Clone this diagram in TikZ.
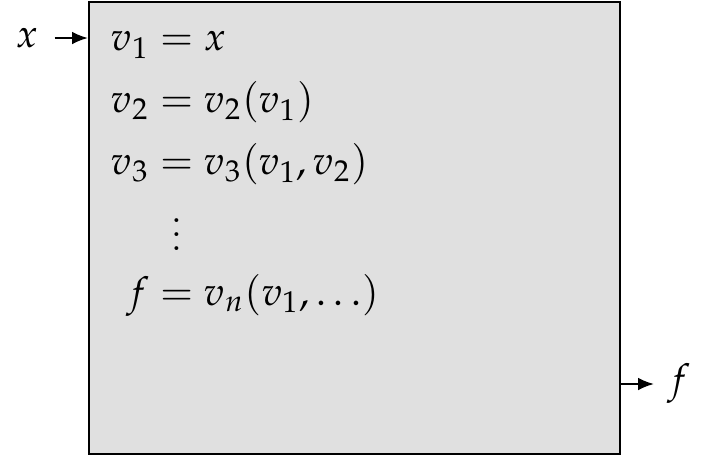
\documentclass[tikz,border=0pt]{standalone}
\usepackage{amsmath}
\usepackage{mathpazo}
\usetikzlibrary{arrows.meta}
\begin{document}
\begin{tikzpicture}[every node/.style={font=\fontsize{11.3}{13.6}\selectfont}]
    \tikzstyle{boite}=[draw,line width=0.6pt,fill=black!12,inner sep=0pt]
    \tikzstyle{fleche}=[-{Latex[length=4.5pt,width=3.6pt]},line width=0.6pt]
    \useasboundingbox (0,0) rectangle (7.09,-4.55);
    \node[boite,minimum width=5.31cm,minimum height=4.52cm,anchor=north west] (prog) at (0.88,-0.01) {};
    \node[anchor=north west] (eqs) at (0.99,-0.05) {\setlength{\jot}{4.0pt}$\begin{aligned}
        v_1 &= x\\
        v_2 &= v_2(v_1)\\
        v_3 &= v_3(v_1,v_2)\\[4pt]
            &\mkern10mu\smash{\vdots}\\[-2pt]
        f &= v_n(v_1,\ldots)
      \end{aligned}$};
    \node[inner sep=0pt] (x) at (0.27,-0.38) {$x$};
    \node[inner sep=0pt] (f) at (6.79,-3.84) {$f$};
    \draw[fleche] (x.east) ++(0.16,0) -- (x -| prog.west);
    \draw[fleche] (prog.east |- f) -- ([xshift=-0.13cm]f.west);
\end{tikzpicture}
\end{document}
